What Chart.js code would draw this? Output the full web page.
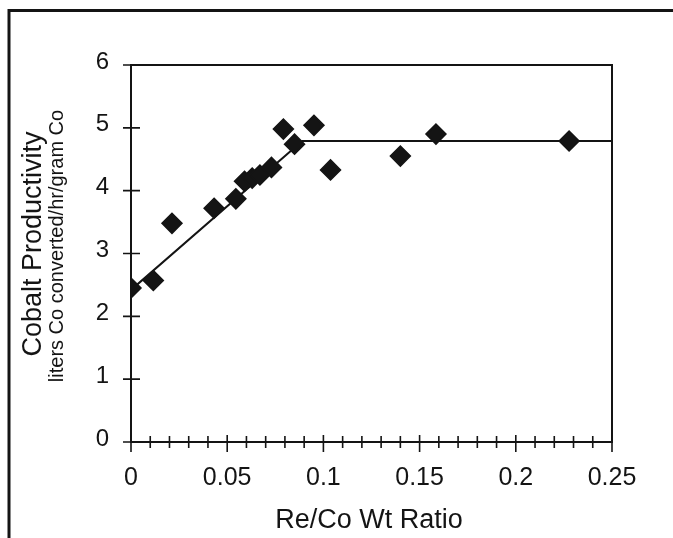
<!DOCTYPE html>
<html><head><meta charset="utf-8">
<script src="https://cdn.jsdelivr.net/npm/chart.js@4.4.1/dist/chart.umd.min.js"></script>
<style>html,body{margin:0;padding:0;background:#fff;}#wrap{width:673px;height:538px;position:relative;}</style>
</head><body><div id="wrap"><canvas id="c" width="673" height="538"></canvas></div>
<script>
// ---- data ----
const reCoRatio    = [0, 0.0116, 0.0213, 0.0432, 0.0545, 0.059, 0.063, 0.067, 0.073, 0.0792, 0.085, 0.0951, 0.1037, 0.140, 0.1585, 0.2277];
const productivity = [2.45, 2.57, 3.48, 3.72, 3.87, 4.15, 4.20, 4.25, 4.37, 4.98, 4.74, 5.04, 4.33, 4.55, 4.90, 4.79];
const fitX = [0, 0.089, 0.25];
const fitY = [2.42, 4.79, 4.79];
const xTicks = [0, 0.05, 0.1, 0.15, 0.2, 0.25];
const yTicks = [0, 1, 2, 3, 4, 5, 6];
const xMinorStep = 0.01;
const xTitle = 'Re/Co Wt Ratio';
const yTitle1 = 'Cobalt Productivity';
const yTitle2 = 'liters Co converted/hr/gram Co';

const INK = '#141414';
const FONT = '"Liberation Sans", Arial, Helvetica, sans-serif';

const decor = {
  id: 'decor',
  beforeDraw(chart) {
    const ctx = chart.ctx;
    ctx.save();
    ctx.fillStyle = '#fff';
    ctx.fillRect(0, 0, chart.width, chart.height);
    // outer frame (top + left only)
    ctx.strokeStyle = INK;
    ctx.lineWidth = 3;
    ctx.beginPath();
    ctx.moveTo(9, 538); ctx.lineTo(9, 10.5); ctx.lineTo(673, 10.5);
    ctx.stroke();
    ctx.restore();
  },
  afterDraw(chart) {
    const ctx = chart.ctx;
    const a = chart.chartArea;
    const xs = chart.scales.x, ys = chart.scales.y;
    ctx.save();
    ctx.strokeStyle = INK;
    ctx.lineWidth = 2;
    ctx.strokeRect(a.left, a.top, a.right - a.left, a.bottom - a.top);
    // y ticks (crossing)
    ctx.lineWidth = 1.6;
    ctx.beginPath();
    yTicks.forEach(v => {
      const p = ys.getPixelForValue(v);
      ctx.moveTo(a.left - 8, p); ctx.lineTo(a.left + 9, p);
    });
    // x ticks
    const n = Math.round((xs.max - xs.min) / xMinorStep);
    for (let i = 0; i <= n; i++) {
      const v = xs.min + i * xMinorStep;
      const p = xs.getPixelForValue(v);
      const major = i % 5 === 0;
      ctx.moveTo(p, a.bottom - (major ? 7 : 6));
      ctx.lineTo(p, a.bottom + (major ? 10 : 6));
    }
    ctx.stroke();
    // titles
    ctx.fillStyle = INK;
    ctx.textAlign = 'center';
    ctx.textBaseline = 'alphabetic';
    ctx.font = '27px ' + FONT;
    ctx.fillText(xTitle, 369, 528);
    ctx.save();
    ctx.translate(41, 244);
    ctx.rotate(-Math.PI / 2);
    ctx.font = '27px ' + FONT;
    ctx.fillText(yTitle1, 0, 0);
    ctx.restore();
    ctx.save();
    ctx.translate(63, 246);
    ctx.rotate(-Math.PI / 2);
    ctx.font = '20px ' + FONT;
    ctx.fillText(yTitle2, 0, 0);
    ctx.restore();
    ctx.restore();
  }
};

new Chart(document.getElementById('c'), {
  type: 'scatter',
  data: {
    datasets: [
      {
        label: 'fit',
        data: fitX.map((x, i) => ({ x, y: fitY[i] })),
        showLine: true,
        borderColor: INK,
        borderWidth: 2,
        pointRadius: 0,
        fill: false,
        order: 2
      },
      {
        label: 'data',
        data: reCoRatio.map((x, i) => ({ x, y: productivity[i] })),
        pointStyle: 'rectRot',
        pointRadius: 10,
        backgroundColor: INK,
        borderColor: INK,
        borderWidth: 1.5,
        order: 1
      }
    ]
  },
  options: {
    responsive: false,
    animation: false,
    layout: { padding: { left: 0, top: 65, right: 61, bottom: 0 } },
    plugins: { legend: { display: false }, tooltip: { enabled: false } },
    scales: {
      x: {
        type: 'linear', min: 0, max: 0.25,
        afterBuildTicks: s => { s.ticks = xTicks.map(v => ({ value: v })); },
        afterFit: s => { s.height = 96; },
        grid: { display: false, drawTicks: false },
        border: { display: false },
        ticks: { color: INK, font: { size: 25, family: FONT }, padding: 21, maxRotation: 0, autoSkip: false,
                 callback: v => String(v) }
      },
      y: {
        type: 'linear', min: 0, max: 6,
        afterBuildTicks: s => { s.ticks = yTicks.map(v => ({ value: v })); },
        afterFit: s => { s.width = 131; },
        grid: { display: false, drawTicks: false },
        border: { display: false },
        ticks: { color: INK, font: { size: 24, family: FONT }, padding: 22, labelOffset: -3,
                 callback: v => String(v) }
      }
    }
  },
  plugins: [decor]
});
</script>
</body></html>
